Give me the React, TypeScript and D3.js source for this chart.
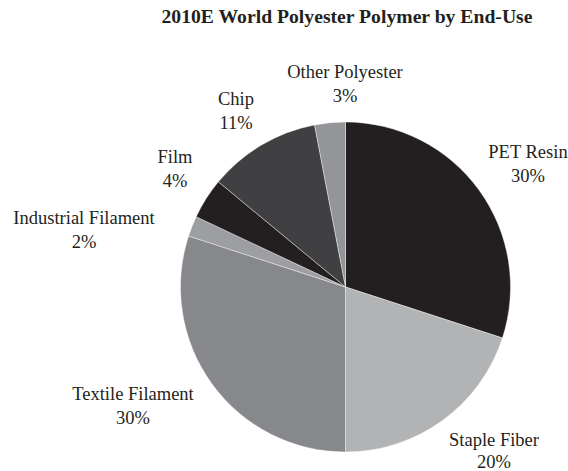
import React from "react";
import * as d3 from "d3";

const categories = ["PET Resin", "Staple Fiber", "Textile Filament", "Industrial Filament", "Film", "Chip", "Other Polyester"];
const values = [30, 20, 30, 2, 4, 11, 3];
const labels = ["30%", "20%", "30%", "2%", "4%", "11%", "3%"];
const colors = ["#231f20", "#b2b3b5", "#87888b", "#9d9ea1", "#231f20", "#404042", "#939598"];
// label anchor positions (name line baseline)
const labelPos: [number, number][] = [
  [528, 158], [494, 446], [133, 400], [84, 224], [175, 163], [236, 105], [345, 78],
];

export default function App() {
  const W = 568, H = 471;
  const cx = 345.5, cy = 287, r = 165;
  const pie = d3.pie<number>().sort(null).value((d) => d);
  const arcs = pie(values);
  const arcGen = d3.arc<d3.PieArcDatum<number>>().innerRadius(0).outerRadius(r);
  const font = "'Liberation Serif', 'Times New Roman', serif";
  return (
    <svg width={W} height={H} style={{ position: "absolute", left: 0, top: 0 }}>
      <rect width={W} height={H} fill="#fff" />
      <text x={347} y={23} textAnchor="middle" fontFamily={font} fontWeight="bold" fontSize={18}
        textLength={371} lengthAdjust="spacingAndGlyphs" fill="#231f20">
        2010E World Polyester Polymer by End-Use
      </text>
      <g transform={`translate(${cx},${cy})`}>
        {arcs.map((a, i) => (
          <path key={i} d={arcGen(a) || ""} fill={colors[i]} stroke="#fff" strokeWidth={0.4} />
        ))}
      </g>
      {categories.map((c, i) => (
        <g key={c} fontFamily={font} fontSize={18.5} fill="#231f20" textAnchor="middle">
          <text x={labelPos[i][0]} y={labelPos[i][1]}>{c}</text>
          <text x={labelPos[i][0]} y={labelPos[i][1] + (i === 1 ? 22 : 23.5)}>{labels[i]}</text>
        </g>
      ))}
    </svg>
  );
}
